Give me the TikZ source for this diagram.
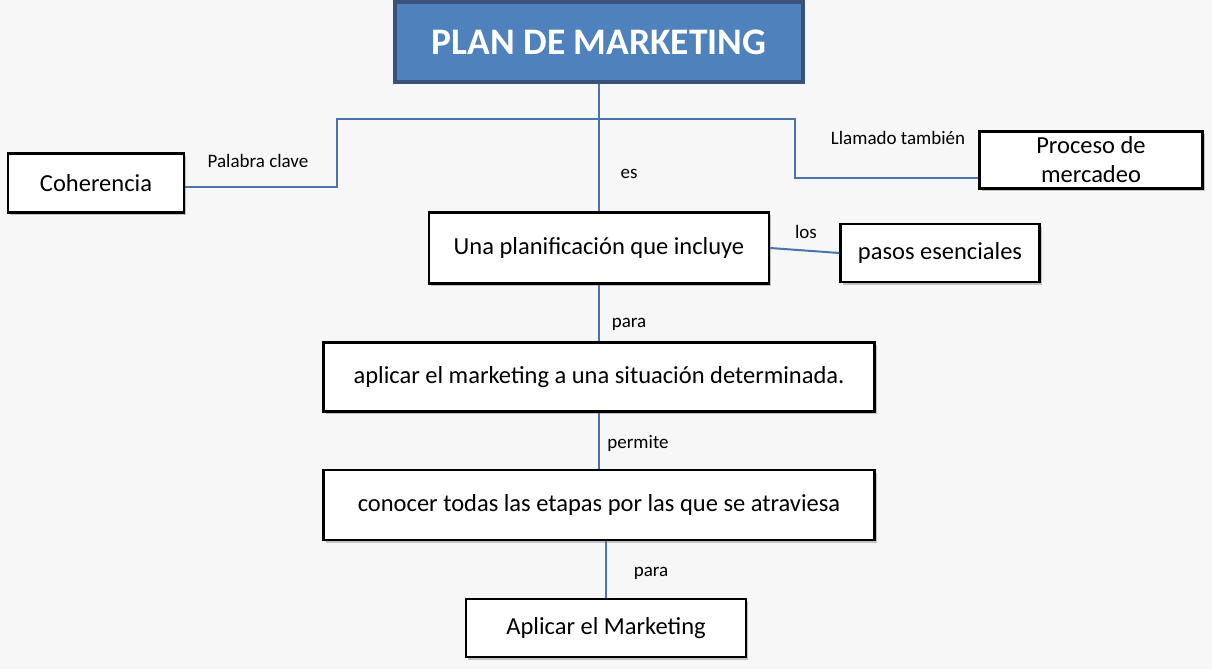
\documentclass[tikz,border=0pt]{standalone}
\usepackage{fontspec}
\setmainfont{Carlito}
\usepackage{tikz}
\usetikzlibrary{positioning, calc, shadows}
\definecolor{planblue}{RGB}{79, 129, 189}
\definecolor{planborder}{RGB}{56, 82, 122}
\definecolor{linkblue}{RGB}{74, 116, 170}
\definecolor{paper}{RGB}{247, 247, 247}

\tikzset{
  box/.style={draw=black, line width=2.2pt, fill=white, align=center, font=\fontsize{24.5}{29}\selectfont,
    drop shadow={shadow xshift=2pt, shadow yshift=-2.5pt, opacity=0.45}},
  lbl/.style={font=\fontsize{19}{22}\selectfont, inner sep=0pt},
  link/.style={draw=linkblue, line width=2pt}
}

\begin{document}
\begin{tikzpicture}[x=1pt, y=-1pt]
  % Background
  \fill[paper] (0,0) rectangle (1212,669);
  \useasboundingbox (0,0) rectangle (1212,669);

  % Title
  \node[draw=planborder, line width=3.5pt, fill=planblue, minimum width=408pt, minimum height=80pt,
    font=\fontsize{37.5}{40}\selectfont\bfseries, text=white,
    drop shadow={shadow xshift=1.5pt, shadow yshift=-1.5pt, opacity=0.3}] (title) at (599,42) {PLAN DE MARKETING};

  % Boxes
  \node[box, minimum width=176pt, minimum height=59pt] (coh) at (96,183) {Coherencia};
  \node[box, minimum width=223pt, minimum height=57pt] (proc) at (1091,160) {Proceso de\\mercadeo};
  \node[box, minimum width=340pt, minimum height=71pt] (plan) at (599,248) {Una planificación que incluye};
  \node[box, minimum width=199pt, minimum height=58pt] (pasos) at (940,253) {pasos esenciales};
  \node[box, minimum width=551pt, minimum height=69pt] (aplic) at (599,377) {aplicar el marketing a una situación determinada.};
  \node[box, minimum width=551pt, minimum height=70pt] (conoc) at (599,505) {conocer todas las etapas por las que se atraviesa};
  \node[box, minimum width=280pt, minimum height=58pt] (final) at (606,628) {Aplicar el Marketing};

  % Connectors
  \coordinate (jl) at (337,119);
  \coordinate (jr) at (795,119);
  \draw[link] (title.south) -- (plan.north);
  \draw[link] ([yshift=-4pt]coh.east) -| (jl) -- (jr) |- ([yshift=-18pt]proc.west);
  \draw[link] (plan.east) -- (pasos.west);
  \draw[link] (plan.south) -- (aplic.north);
  \draw[link] (aplic.south) -- (conoc.north);
  \draw[link] (final.north) -- (final.north |- conoc.south);

  % Labels
  \node[lbl] (es) at (629,174) {es};
  \node[lbl] (clave) at (258,161) {Palabra clave};
  \node[lbl] (llamado) at (898,138) {Llamado también};
  \node[lbl] (los) at (806,232) {los};
  \node[lbl] (para1) at (629,324) {para};
  \node[lbl] (permite) at (638,443) {permite};
  \node[lbl] (para2) at (651,573) {para};
\end{tikzpicture}
\end{document}
